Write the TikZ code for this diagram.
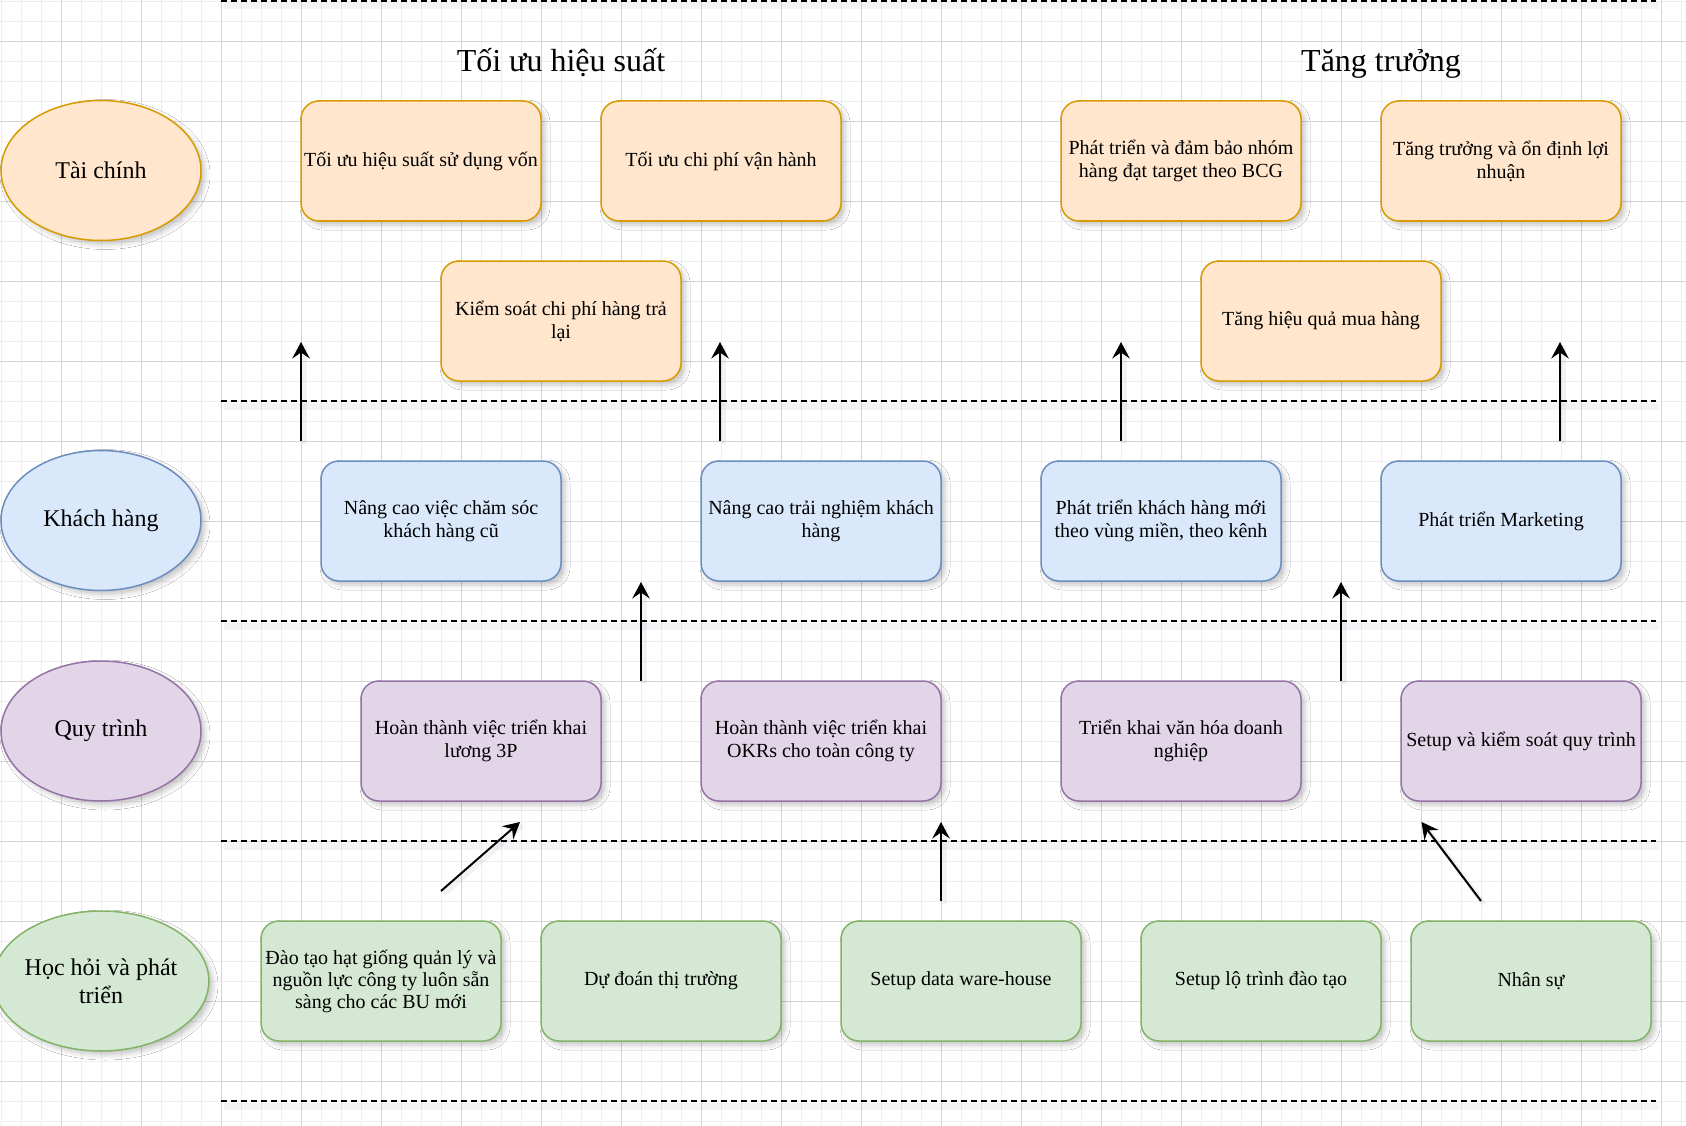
\documentclass[tikz,border=0pt]{standalone}
\usepackage{fontspec}
\setmainfont{Liberation Serif}
\usetikzlibrary{arrows.meta,shadows.blur,shapes.geometric}

\definecolor{orF}{HTML}{FFE6CC}\definecolor{orD}{HTML}{D79B00}
\definecolor{blF}{HTML}{DAE8FC}\definecolor{blD}{HTML}{6C8EBF}
\definecolor{puF}{HTML}{E1D5E7}\definecolor{puD}{HTML}{9673A6}
\definecolor{grF}{HTML}{D5E8D4}\definecolor{grD}{HTML}{82B366}
\definecolor{gridminor}{HTML}{EEEEEE}\definecolor{gridmajor}{HTML}{D4D4D4}
\definecolor{shadecol}{HTML}{50506E}

\tikzset{
  softshadow/.style={blur shadow={shadow xshift=4pt,shadow yshift=-4pt,shadow blur radius=5pt,shadow opacity=22}},
  box/.style={rounded corners=18pt,minimum width=240pt,minimum height=120pt,inner sep=0pt,
    align=center,line width=1.5pt,font=\fontsize{20}{23}\selectfont,softshadow},
  obox/.style={box,fill=orF,draw=orD},
  bbox/.style={box,fill=blF,draw=blD},
  pbox/.style={box,fill=puF,draw=puD},
  gbox/.style={box,fill=grF,draw=grD},
  lane/.style={ellipse,minimum width=200pt,minimum height=140pt,inner sep=0pt,align=center,
    line width=1.5pt,font=\fontsize{24}{28}\selectfont,softshadow},
  sepline/.style={line width=2pt,dash pattern=on 6pt off 4pt},
  sepshade/.style={line width=7pt,shadecol,opacity=0.06},
  upar/.style={line width=2pt,-{Stealth[length=16.5pt,width=17.5pt,inset=6pt]}},
  arshade/.style={line width=5pt,shadecol,opacity=0.07},
  headline/.style={font=\fontsize{32}{38}\selectfont,anchor=base,inner sep=0pt},
  gmin/.style={gridminor,line width=1pt},
  gmaj/.style={gridmajor,line width=1pt}
}

\begin{document}
\begin{tikzpicture}[x=1pt,y=-1pt]
\useasboundingbox (0,0) rectangle (1686,1126);
\fill[white] (0,0) rectangle (1686,1126);

% grid
\foreach \i in {0,...,84} \draw[gmin] ({1.5+20*\i},0) -- ({1.5+20*\i},1126);
\foreach \j in {0,...,56} \draw[gmin] (0,{1.7+20*\j}) -- (1686,{1.7+20*\j});
\foreach \i in {0,...,20} \draw[gmaj] ({61.5+80*\i},0) -- ({61.5+80*\i},1126);
\foreach \j in {0,...,13} \draw[gmaj] (0,{41.7+80*\j}) -- (1686,{41.7+80*\j});

% separator lines
\foreach \yy [count=\k] in {1,401,621,841,1101} {
  \coordinate (sl\k) at (221,\yy);
  \coordinate (sr\k) at (1656,\yy);
  \draw[sepshade] ([xshift=3pt,yshift=-5pt]sl\k) -- ([xshift=3pt,yshift=-5pt]sr\k);
  \draw[sepline] (sl\k) -- (sr\k);
}

% headings
\node[headline] (h1) at (561,72) {Tối ưu hiệu suất};
\node[headline] (h2) at (1381,72) {Tăng trưởng};

% lanes
\node[lane,fill=orF,draw=orD] (l1) at (101,170.5) {Tài chính};
\node[lane,fill=blF,draw=blD] (l2) at (101,520.5) {Khách hàng};
\node[lane,fill=puF,draw=puD] (l3) at (101,731) {Quy trình};
\node[lane,fill=grF,draw=grD] (l4) at (101,981) {Học hỏi và phát\\triển};

% finance
\node[obox] (f1) at (421,161) {Tối ưu hiệu suất sử dụng vốn};
\node[obox] (f2) at (721,161) {Tối ưu chi phí vận hành};
\node[obox] (f3) at (1181,161) {Phát triển và đảm bảo nhóm\\hàng đạt target theo BCG};
\node[obox] (f4) at (1501,161) {Tăng trưởng và ổn định lợi\\nhuận};
\node[obox] (f5) at (561,321) {Kiểm soát chi phí hàng trả\\lại};
\node[obox] (f6) at (1321,321) {Tăng hiệu quả mua hàng};

% customers
\node[bbox] (c1) at (441,521) {Nâng cao việc chăm sóc\\khách hàng cũ};
\node[bbox] (c2) at (821,521) {Nâng cao trải nghiệm khách\\hàng};
\node[bbox] (c3) at (1161,521) {Phát triển khách hàng mới\\theo vùng miền, theo kênh};
\node[bbox] (c4) at (1501,521) {Phát triển Marketing};

% process
\node[pbox] (p1) at (481,741) {Hoàn thành việc triển khai\\lương 3P};
\node[pbox] (p2) at (821,741) {Hoàn thành việc triển khai\\OKRs cho toàn công ty};
\node[pbox] (p3) at (1181,741) {Triển khai văn hóa doanh\\nghiệp};
\node[pbox] (p4) at (1521,741) {Setup và kiểm soát quy trình};

% learning
\node[gbox,font=\fontsize{20}{22}\selectfont] (g1) at (381,981) {Đào tạo hạt giống quản lý và\\nguồn lực công ty luôn sẵn\\sàng cho các BU mới};
\node[gbox] (g2) at (661,981) {Dự đoán thị trường};
\node[gbox] (g3) at (961,981) {Setup data ware-house};
\node[gbox] (g4) at (1261,981) {Setup lộ trình đào tạo};
\node[gbox] (g5) at (1531,981) {Nhân sự};

% arrows
\coordinate (a1s) at (301,441);   \coordinate (a1e) at (301,342);
\coordinate (a2s) at (720,441);   \coordinate (a2e) at (720,342);
\coordinate (a3s) at (1121,441);  \coordinate (a3e) at (1121,342);
\coordinate (a4s) at (1560,441);  \coordinate (a4e) at (1560,342);
\coordinate (a5s) at (641,681);   \coordinate (a5e) at (641,582);
\coordinate (a6s) at (1341,681);  \coordinate (a6e) at (1341,582);
\coordinate (a7s) at (441,891);   \coordinate (a7e) at (520,822);
\coordinate (a8s) at (941,901);   \coordinate (a8e) at (941,822);
\coordinate (a9s) at (1481,901);  \coordinate (a9e) at (1421.5,822);

\foreach \k in {1,...,9} {
  \draw[arshade] ([xshift=3pt,yshift=-3pt]a\k s) -- ([xshift=3pt,yshift=-3pt]a\k e);
  \draw[upar] (a\k s) -- (a\k e);
}
\end{tikzpicture}
\end{document}
